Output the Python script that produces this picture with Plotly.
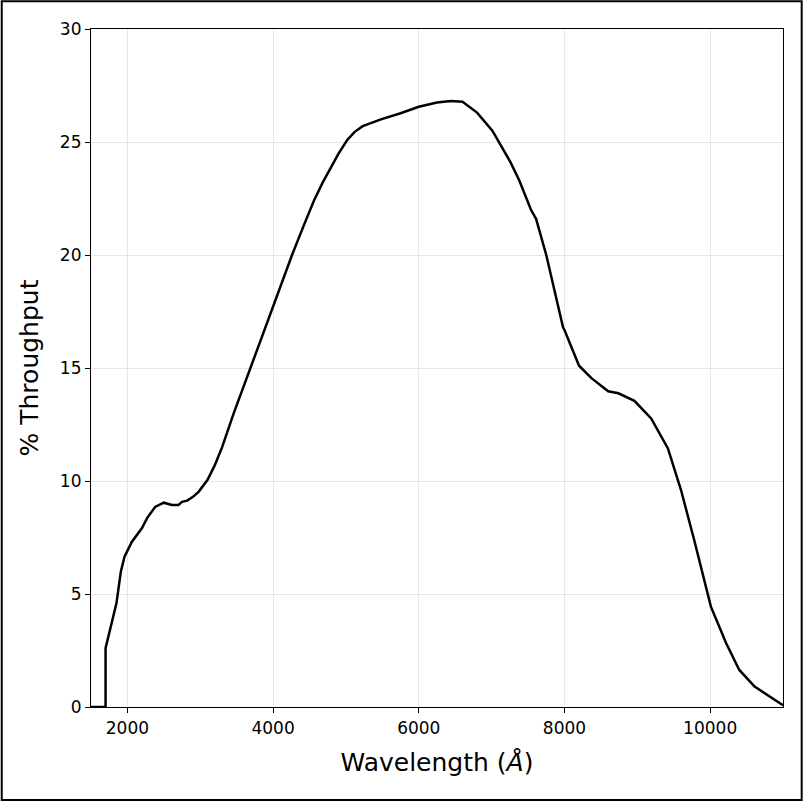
import plotly.graph_objects as go

# throughput curve
wavelength = [1500, 1700, 1700, 1800, 1850, 1910, 1960, 2060, 2200, 2270, 2380, 2500,
              2610, 2700, 2750, 2820, 2900, 2980, 3100, 3200, 3300, 3460, 3690, 3990,
              4260, 4420, 4560, 4680, 4790, 4900, 5020, 5120, 5230, 5480, 5750, 6000,
              6250, 6440, 6600, 6800, 7010, 7260, 7380, 7540, 7610, 7750, 7980, 8000,
              8200, 8370, 8600, 8740, 8960, 9190, 9420, 9600, 9780, 10010, 10220, 10400,
              10610, 11000]
throughput = [0, 0, 2.6, 3.85, 4.6, 6.0, 6.65, 7.3, 7.92, 8.36, 8.85, 9.04,
              8.94, 8.94, 9.08, 9.13, 9.3, 9.53, 10.05, 10.7, 11.5, 13.0, 15.0, 17.7,
              20.0, 21.3, 22.4, 23.2, 23.85, 24.5, 25.1, 25.45, 25.7, 26.0, 26.27, 26.56,
              26.75, 26.81, 26.78, 26.3, 25.5, 24.1, 23.3, 22.0, 21.6, 20.0, 16.8, 16.68,
              15.1, 14.55, 13.97, 13.88, 13.55, 12.77, 11.44, 9.6, 7.4, 4.44, 2.82, 1.64,
              0.9, 0.08]

x_ticks = [2000, 4000, 6000, 8000, 10000]
y_ticks = [0, 5, 10, 15, 20, 25, 30]

fig = go.Figure()
fig.add_trace(go.Scatter(
    x=wavelength, y=throughput, mode="lines",
    line=dict(color="black", width=2.5), showlegend=False
))

axis_style = dict(
    showline=True, linecolor="black", linewidth=1.2, mirror=True,
    ticks="outside", ticklen=5, tickwidth=1.2, tickcolor="black",
    showgrid=True, gridcolor="#e6e6e6", gridwidth=1, zeroline=False,
    tickfont=dict(size=17, color="black"),
)

fig.update_layout(
    width=803, height=801,
    margin=dict(l=91, r=20, t=29, b=94),
    plot_bgcolor="white", paper_bgcolor="white",
    font=dict(family="DejaVu Sans", color="black"),
    xaxis=dict(range=[1500, 11000], tickvals=x_ticks, ticktext=[str(t) for t in x_ticks],
               title=dict(text="Wavelength (<i>Å</i>)", font=dict(size=25), standoff=16),
               **axis_style),
    yaxis=dict(range=[0, 30], tickvals=y_ticks, ticktext=[str(t) for t in y_ticks],
               title=dict(text="% Throughput", font=dict(size=25), standoff=14),
               **axis_style),
)

# outer figure frame
fig.add_shape(type="rect", xref="paper", yref="paper",
              x0=-0.129, x1=1.027, y0=-0.137, y1=1.041,
              line=dict(color="black", width=2))

fig.write_html("out.html", config={"displayModeBar": False},
               post_script="document.body.style.margin='0';")
